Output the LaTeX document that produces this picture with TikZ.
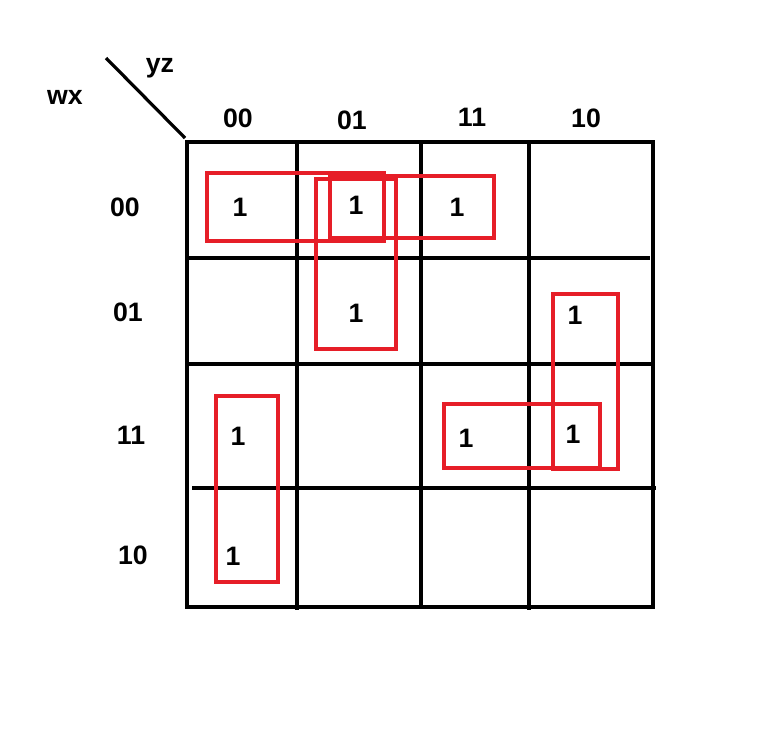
\documentclass[tikz,border=0pt]{standalone}
\usepackage{fontspec}
\setmainfont{Liberation Sans}
\begin{document}
\begin{tikzpicture}[x=0.75pt, y=-0.75pt,
    grid/.style ={line width=2.6pt, black},
    group/.style ={line width=2.4pt, draw={rgb,255:red,230;green,30;blue,40}},
    lbl/.style ={font=\fontsize{20}{24}\selectfont\bfseries},
    one/.style ={font=\fontsize{20}{24}\selectfont\bfseries}]
   \useasboundingbox (0,0) rectangle (768,733);
   % map grid
   \draw[grid] (187,142) rectangle (653,607);
   \draw[grid] (297,142) -- (297,610);
   \draw[grid] (421,142) -- (421,607);
   \draw[grid] (529,142) -- (529,610);
   \draw[grid] (187,258) -- (650,258);
   \draw[grid] (187,364) -- (653,364);
   \draw[grid] (192,488) -- (656,488);
   \draw[line width=2.4pt] (106,58) -- (185,138);
   % labels
   \node[lbl] (wx) at (65,97) {wx};
   \node[lbl] (yz) at (160,68) {yz};
   \node[lbl] (c1) at (238,118) {00};
   \node[lbl] (c2) at (352,120) {01};
   \node[lbl] (c3) at (472,117) {11};
   \node[lbl] (c4) at (586,118) {10};
   \node[lbl] (r1) at (125,207) {00};
   \node[lbl] (r2) at (128,312) {01};
   \node[lbl] (r3) at (131,435) {11};
   \node[lbl] (r4) at (133,555) {10};
   % ones
   \node[one] (m0) at (240,207) {1};
   \node[one] (m1) at (356,205) {1};
   \node[one] (m3) at (457,207) {1};
   \node[one] (m5) at (356,313) {1};
   \node[one] (m6) at (575,315) {1};
   \node[one] (m12) at (238,436) {1};
   \node[one] (m15) at (466,438) {1};
   \node[one] (m14) at (573,434) {1};
   \node[one] (m8) at (233,556) {1};
   % groups
   \draw[group] (207,173) rectangle (384,241);
   \draw[group] (316,179) rectangle (396,349);
   \draw[group] (330,176) rectangle (494,238);
   \draw[group] (553,294) rectangle (618,469);
   \draw[group] (444,404) rectangle (600,468);
   \draw[group] (216,396) rectangle (278,582);
\end{tikzpicture}
\end{document}
